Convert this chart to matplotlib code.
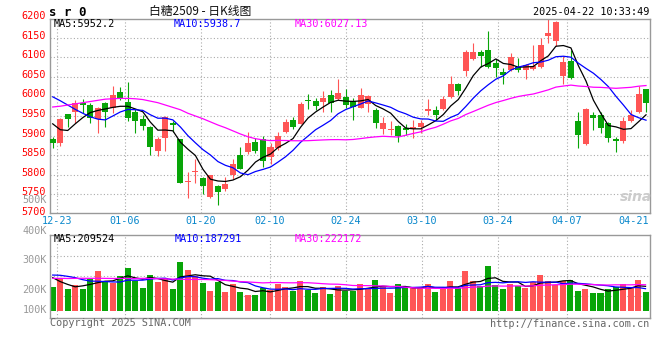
import matplotlib
matplotlib.use('Agg')
import matplotlib.pyplot as plt
import numpy as np
import pandas as pd

# 白糖2509 日K线, 2024-12-20 ~ 2025-04-22
opens = [5890, 5882, 5955, 5959, 5982, 5978, 5942, 5984, 5970, 6012,
         5985, 5961, 5942, 5923, 5861, 5895, 5931, 5890, 5781, 5806,
         5791, 5742, 5771, 5763, 5799, 5850, 5857, 5884, 5891, 5846,
         5868, 5910, 5940, 5930, 5991, 5988, 5987, 6004, 5993, 5999,
         5989, 5971, 5980, 5965, 5916, 5913, 5924, 5919, 5917, 5921,
         5964, 5965, 5968, 5998, 6032, 6065, 6095, 6114, 6119, 6086,
         6063, 6068, 6076, 6068, 6069, 6076, 6155, 6142, 6051, 6090,
         5936, 5879, 5953, 5953, 5933, 5891, 5885, 5936, 5959, 6019]
highs = [5897, 5944, 5956, 5991, 5993, 5982, 5974, 5986, 6027, 6025,
         6038, 5967, 5953, 5925, 5897, 5950, 5936, 5892, 5808, 5840,
         5793, 5800, 5773, 5795, 5840, 5870, 5910, 5895, 5899, 5880,
         5908, 5942, 5948, 5985, 6006, 5997, 6014, 6016, 6045, 6019,
         5995, 6022, 6004, 5971, 5948, 5937, 5927, 5929, 5940, 5940,
         5993, 5976, 6000, 6052, 6034, 6119, 6136, 6119, 6167, 6095,
         6073, 6110, 6097, 6082, 6131, 6150, 6199, 6193, 6102, 6119,
         5959, 5970, 5959, 5959, 5934, 5897, 5948, 5965, 6027, 6020]
lows = [5869, 5874, 5923, 5931, 5957, 5933, 5907, 5923, 5958, 5990,
        5936, 5906, 5913, 5850, 5848, 5861, 5910, 5779, 5741, 5780,
        5751, 5741, 5723, 5759, 5789, 5814, 5853, 5855, 5821, 5827,
        5863, 5906, 5916, 5929, 5967, 5965, 5961, 5959, 5991, 5970,
        5940, 5970, 5959, 5919, 5903, 5902, 5884, 5902, 5895, 5906,
        5953, 5940, 5965, 5995, 6004, 6052, 6093, 6076, 6073, 6050,
        6033, 6065, 6063, 6044, 6068, 6073, 6136, 6128, 6033, 6044,
        5867, 5876, 5914, 5906, 5883, 5857, 5880, 5934, 5958, 5961]
closes = [5882, 5942, 5942, 5984, 5979, 5946, 5970, 5961, 6004, 5993,
          5946, 5936, 5925, 5872, 5890, 5948, 5926, 5780, 5782, 5810,
          5772, 5799, 5757, 5776, 5828, 5815, 5882, 5861, 5836, 5870,
          5899, 5934, 5923, 5980, 5988, 5976, 5997, 5982, 6008, 5977,
          5972, 6004, 6000, 5931, 5933, 5918, 5899, 5915, 5921, 5933,
          5968, 5953, 5993, 6032, 6014, 6114, 6113, 6103, 6076, 6073,
          6056, 6100, 6068, 6080, 6078, 6131, 6161, 6191, 6089, 6048,
          5902, 5968, 5944, 5919, 5895, 5885, 5937, 5953, 6006, 5984]
# 成交量 (K)
volumes = [205, 266, 185, 219, 185, 266, 339, 247, 233, 297,
           365, 255, 194, 306, 247, 281, 188, 415, 348, 295,
           238, 171, 241, 163, 227, 163, 135, 135, 196, 177,
           224, 205, 171, 252, 177, 154, 205, 143, 210, 168,
           168, 227, 185, 261, 205, 151, 227, 191, 205, 191,
           227, 160, 185, 252, 191, 337, 252, 213, 379, 219,
           185, 227, 210, 196, 244, 303, 252, 219, 252, 261,
           168, 185, 151, 151, 185, 202, 227, 191, 261, 160]

# 均线在图上可见的开头部分 (之前的数据不在图里)
ma5_head = [5930, 5915, 5913, 5930]
ma10_head = [5999, 5989, 5978, 5967, 5957, 5948, 5942, 5940, 5950]
ma30_head = [5973, 5975, 5978, 5981, 5984, 5987, 5990, 5993, 5994, 5995,
             5995, 5994, 5992, 5988, 5984, 5978, 5972, 5966, 5957, 5950,
             5943, 5935, 5927, 5920, 5912, 5904, 5897, 5892, 5889]
vma5_head = [281, 248, 224, 204]
vma10_head = [303, 301, 292, 281, 264, 252, 251, 248, 245]
vma30_head = [275, 275, 274, 275, 276, 275, 276, 275, 274, 275,
              274, 273, 275, 274, 272, 271, 269, 268, 266, 266,
              266, 264, 261, 258, 252, 248, 245, 241, 237]

date_labels = ['12-23', '01-06', '01-20', '02-10', '02-24', '03-10', '03-24', '04-07', '04-21']
date_pos = [0.57, 9.63, 19.75, 28.94, 39.05, 49.17, 59.29, 68.48, 77.3]
price_ticks = [6200, 6150, 6100, 6050, 6000, 5950, 5900, 5850, 5800, 5750, 5700]


def ma(vals, n, head):
    s = pd.Series(vals, dtype=float).rolling(n).mean().to_numpy()
    s[:n - 1] = head
    return s


RED = '#ff5555'
GREEN = '#08a508'
GRID = '#aaaaaa'
mono = 'DejaVu Sans Mono'

fig = plt.figure(figsize=(6.6, 3.6), dpi=100)


def ftext(x, y, s, **kw):
    fig.text(x / 660, 1 - y / 360, s, **kw)


ax = fig.add_axes([50 / 660, 1 - 212.7 / 360, 600 / 660, 193.4 / 360])
ax2 = fig.add_axes([50 / 660, 1 - 318.3 / 360, 599.5 / 660, 83.3 / 360])

o = np.array(opens)
c = np.array(closes)
x = np.arange(len(c))
cols = np.where(c >= o, RED, GREEN)

# K线
ax.vlines(x, lows, highs, colors=cols, lw=0.8, zorder=2)
ax.bar(x, np.maximum(np.abs(c - o), 2.5), bottom=np.minimum(o, c), width=0.8,
       color=cols, lw=0, zorder=3)
ax.plot(x, ma(closes, 5, ma5_head), color='black', lw=0.9, zorder=4)
ax.plot(x, ma(closes, 10, ma10_head), color='#0000ff', lw=0.9, zorder=4)
ax.plot(x, ma(closes, 30, ma30_head), color='#ff00ff', lw=0.9, zorder=4)

ax.set_xlim(-0.36, 79.53)
ax.set_ylim(5703, 6197)
ax.set_yticks(price_ticks[1:-1])
ax.set_xticks(date_pos[:8])
ax.grid(True, color=GRID, ls=(0, (1, 2)), lw=0.8)
ax.tick_params(left=False, bottom=False, labelleft=False, labelbottom=False)
for t in price_ticks:
    ax.text(-0.007, t + 5, str(t), transform=ax.get_yaxis_transform(),
            ha='right', va='center', color='red', fontsize=7.3, family=mono)
for p, lab in zip(date_pos, date_labels):
    ax.text(p, -0.045, lab, transform=ax.get_xaxis_transform(),
            ha='center', va='center', color='#0a88cc', fontsize=7.3, family=mono)

# 成交量
ax2.bar(x, volumes, width=0.8, color=cols, lw=0, zorder=2)
ax2.plot(x, ma(volumes, 5, vma5_head), color='black', lw=0.9, zorder=3)
ax2.plot(x, ma(volumes, 10, vma10_head), color='#0000ff', lw=0.9, zorder=3)
ax2.plot(x, ma(volumes, 30, vma30_head), color='#ff00ff', lw=0.9, zorder=3)
ax2.set_xlim(-0.36, 79.53)
ax2.set_ylim(-61, 640)
ax2.set_yticks([129, 297, 465])
ax2.set_xticks(date_pos[:8])
ax2.grid(True, color=GRID, ls=(0, (1, 2)), lw=0.8)
ax2.tick_params(left=False, bottom=False, labelleft=False, labelbottom=False)

for a in (ax, ax2):
    for sp in a.spines.values():
        sp.set_color('#999999')
        sp.set_linewidth(1)

# 文字
ftext(49, 12, 's r 0', fontsize=9, family=mono, weight='bold', va='center')
ftext(200, 12, '白糖2509 - 日K线图', fontsize=8.5, ha='center', va='center',
      family=['Noto Sans CJK SC', 'DejaVu Sans'], color='#111111')
ftext(649, 12, '2025-04-22 10:33:49', fontsize=7.3, family=mono, ha='right', va='center')
ftext(54, 24, 'MA5:5952.2', fontsize=7.3, family=mono, va='center', color='black')
ftext(174, 24, 'MA10:5938.7', fontsize=7.3, family=mono, va='center', color='#0000ff')
ftext(295, 24, 'MA30:6027.13', fontsize=7.3, family=mono, va='center', color='#ff00ff')
ftext(54, 238.5, 'MA5:209524', fontsize=7.3, family=mono, va='center', color='black')
ftext(175, 238.5, 'MA10:187291', fontsize=7.3, family=mono, va='center', color='#0000ff')
ftext(295, 238.5, 'MA30:222172', fontsize=7.3, family=mono, va='center', color='#ff00ff')

for lab, yy in [('500K', 200), ('400K', 230.7), ('300K', 260), ('200K', 290), ('100K', 310)]:
    ftext(47, yy, lab, fontsize=7.3, family=mono, ha='right', va='center', color='#999999')

ftext(50, 323.5, 'Copyright 2025 SINA.COM', fontsize=7.3, family=mono, va='center', color='#666666')
ftext(649, 324, 'http://finance.sina.com.cn', fontsize=7.3, family=mono, ha='right',
      va='center', color='#666666')
ftext(636, 197, 'sina', fontsize=10, style='italic', weight='bold', ha='center',
      va='center', color='#cccccc')

fig.savefig('out.png', dpi=100)
